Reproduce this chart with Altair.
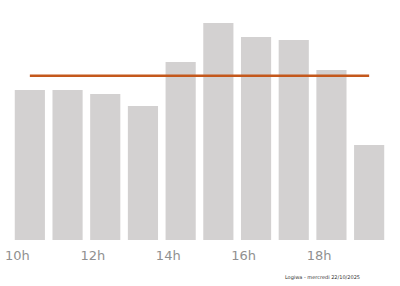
import altair as alt
import pandas as pd

hours = [10, 11, 12, 13, 14, 15, 16, 17, 18, 19]
labels = [f"{h}h" for h in hours]
values = [75, 75, 73, 67, 89, 108.5, 101.5, 100, 85, 47.5]
footer = "Logiwa - mercredi 22/10/2025"

df = pd.DataFrame({"heure": labels, "valeur": values, "h": hours})

x = alt.X(
    "heure:N",
    sort=labels,
    scale=alt.Scale(paddingInner=0.2, paddingOuter=0.1),
    axis=alt.Axis(
        title=None,
        ticks=False,
        domain=False,
        grid=False,
        labelAngle=0,
        labelAlign="right",
        labelFontSize=13,
        labelFont="DejaVu Sans",
        labelColor="#909090",
        labelPadding=9,
        labelExpr="indexof(['10h','12h','14h','16h','18h'], datum.value) >= 0 ? datum.value : ''",
    ),
)

bars = alt.Chart(df).mark_bar(color="#d3d1d1").encode(
    x=x,
    y=alt.Y("valeur:Q", scale=alt.Scale(domain=[0, 120]), axis=None),
)

line = alt.Chart(df).transform_joinaggregate(
    moyenne="mean(valeur)"
).mark_line(color="#c4581c", strokeWidth=2.5).encode(
    x=x,
    y=alt.Y("moyenne:Q", scale=alt.Scale(domain=[0, 120]), axis=None),
)

chart = (bars + line).properties(
    width=377,
    height=240,
    autosize=alt.AutoSizeParams(type="none"),
    padding={"left": 11, "top": 0, "right": 12, "bottom": 46},
    background="white",
    title=alt.TitleParams(
        footer,
        orient="bottom",
        anchor="end",
        fontSize=5,
        fontWeight="normal",
        font="DejaVu Sans",
        color="#333333",
        dx=-28,
        offset=13,
    ),
).configure_view(stroke=None)

chart.save("out.html", embed_options={"renderer": "svg", "actions": False})
